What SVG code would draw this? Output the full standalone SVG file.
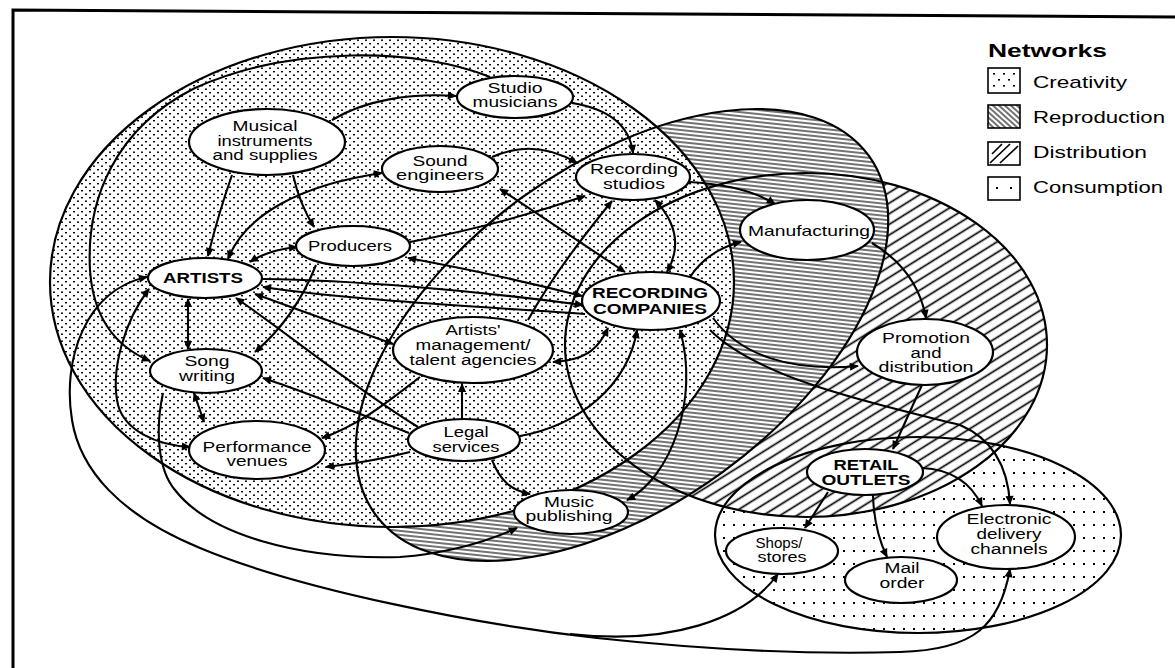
<svg xmlns="http://www.w3.org/2000/svg" width="1175" height="668" viewBox="0 0 1175 668">
<style>
.net{stroke:none}
.outl{fill:none;stroke:#000;stroke-width:2.2}
.node{fill:#fff;stroke:#000;stroke-width:2.2}
.c{fill:none;stroke:#000;stroke-width:2.1}
.e{marker-end:url(#ah)}
.b{marker-start:url(#ah);marker-end:url(#ah)}
.lb{stroke:#000;stroke-width:1.6}
text{font-family:"Liberation Sans",Arial,sans-serif;font-size:14px;fill:#000;text-anchor:middle}
.bold{font-weight:bold}
.leg{font-size:17px;text-anchor:start}
</style>
<defs>
<pattern id="pCre" width="8" height="7" patternUnits="userSpaceOnUse">
<rect width="8" height="7" fill="#fff"/>
<rect x="1" y="1" width="2" height="1.4" fill="#000"/>
<rect x="5" y="4.5" width="2" height="1.4" fill="#000"/>
</pattern>
<pattern id="pRep" width="4" height="4" patternUnits="userSpaceOnUse" patternTransform="rotate(42)">
<rect width="4" height="4" fill="#fff"/>
<line x1="0" y1="2" x2="4" y2="2" stroke="#000" stroke-width="1.1"/>
</pattern>
<pattern id="pDis" width="9" height="9" patternUnits="userSpaceOnUse" patternTransform="rotate(-32)">
<rect width="9" height="9" fill="#fff"/>
<line x1="0" y1="4.5" x2="9" y2="4.5" stroke="#000" stroke-width="1.7"/>
</pattern>
<pattern id="pCon" width="10" height="13" patternUnits="userSpaceOnUse">
<rect width="10" height="13" fill="#fff"/>
<rect x="3" y="4" width="2" height="2" fill="#000"/>
</pattern>
<marker id="ah" viewBox="0 0 10 10" refX="9" refY="5" markerWidth="10" markerHeight="9" markerUnits="userSpaceOnUse" orient="auto-start-reverse">
<path d="M0,0.5 L10,5 L0,9.5 z" fill="#000"/>
</marker>
</defs>

<rect width="1175" height="668" fill="#fff"/>
<path d="M13,668 L13,10 L1175,17" fill="none" stroke="#000" stroke-width="3"/>

<g id="networks">
<ellipse id="consumption" class="net" cx="918" cy="535" rx="203" ry="98" fill="url(#pCon)"/>
<ellipse id="distribution" class="net" cx="806" cy="345" rx="241" ry="172" fill="url(#pDis)"/>
<ellipse id="reproduction" class="net" cx="0" cy="0" rx="305" ry="170" transform="translate(622,335) rotate(-36)" fill="url(#pRep)"/>
<ellipse id="creativity" class="net" cx="392" cy="282" rx="342" ry="245" fill="url(#pCre)"/>
<ellipse class="outl" cx="918" cy="535" rx="203" ry="98"/>
<ellipse class="outl" cx="806" cy="345" rx="241" ry="172"/>
<ellipse class="outl" cx="0" cy="0" rx="305" ry="170" transform="translate(622,335) rotate(-36)"/>
<ellipse class="outl" cx="392" cy="282" rx="342" ry="245"/>
</g>

<g id="legend">
<text class="bold leg" x="988" y="57" textLength="119" lengthAdjust="spacingAndGlyphs" style="font-size:18px">Networks</text>
<g id="leg-creativity">
<rect x="988" y="68" width="32" height="25" fill="#fff" class="lb"/>
<g fill="#000">
<rect x="993" y="73" width="2" height="1.6"/><rect x="1003" y="73" width="2" height="1.6"/><rect x="1013" y="73" width="2" height="1.6"/>
<rect x="998" y="79" width="2" height="1.6"/><rect x="1008" y="79" width="2" height="1.6"/>
<rect x="993" y="85" width="2" height="1.6"/><rect x="1003" y="85" width="2" height="1.6"/><rect x="1013" y="85" width="2" height="1.6"/>
</g>
</g>
<rect x="988" y="105" width="32" height="23" fill="url(#pRep)" class="lb"/>
<g id="leg-distribution">
<rect x="988" y="142" width="32" height="23" fill="#fff" class="lb"/>
<path d="M990,163 L1010,144 M1000,163 L1018,146 M992,154 L1002,144" stroke="#000" stroke-width="1.7" fill="none"/>
</g>
<g id="leg-consumption">
<rect x="988" y="177" width="32" height="23" fill="#fff" class="lb"/>
<rect x="996" y="187" width="2" height="2" fill="#000"/><rect x="1010" y="187" width="2" height="2" fill="#000"/>
</g>
<text class="leg" x="1033" y="88" textLength="94" lengthAdjust="spacingAndGlyphs">Creativity</text>
<text class="leg" x="1033" y="123" textLength="132" lengthAdjust="spacingAndGlyphs">Reproduction</text>
<text class="leg" x="1033" y="158" textLength="114" lengthAdjust="spacingAndGlyphs">Distribution</text>
<text class="leg" x="1033" y="193" textLength="130" lengthAdjust="spacingAndGlyphs">Consumption</text>
</g>

<g id="connectors">
<path class="c e" d="M232,175 Q218,215 208,256"/>
<path class="c e" d="M293,175 Q300,205 314,227"/>
<path class="c e" d="M332,120 C365,100 410,93 456,96"/>
<path class="c e" d="M490,77 C420,48 290,45 195,88 C115,128 86,200 90,270 C93,315 112,345 150,361"/>
<path class="c e" d="M572,103 Q628,112 633,153"/>
<path class="c e" d="M492,157 Q535,138 577,163"/>
<path class="c b" d="M228,259 C245,215 300,185 382,173"/>
<path class="c b" d="M250,262 Q268,250 297,247"/>
<path class="c e" d="M316,265 Q295,318 255,352"/>
<path class="c e" d="M410,242 Q500,225 585,196"/>
<path class="c b" d="M408,258 Q500,275 582,296"/>
<path class="c e" d="M262,279 C350,280 470,290 583,305"/>
<path class="c e" d="M585,314 C470,306 350,300 263,287"/>
<path class="c b" d="M255,294 L393,344"/>
<path class="c e" d="M418,427 C350,385 290,335 236,298"/>
<path class="c b" d="M500,189 L625,272"/>
<path class="c b" d="M655,200 Q688,235 667,272"/>
<path class="c e" d="M689,182 Q745,185 775,204"/>
<path class="c e" d="M872,243 C900,260 920,285 926,318"/>
<path class="c e" d="M690,277 Q708,250 741,242"/>
<path class="c e" d="M713,318 C740,355 790,372 858,366"/>
<path class="c e" d="M710,330 C760,380 880,405 960,425 C995,440 1008,470 1010,504"/>
<path class="c e" d="M922,385 L893,449"/>
<path class="c e" d="M828,492 L805,528"/>
<path class="c e" d="M873,495 Q874,530 887,557"/>
<path class="c e" d="M922,468 Q965,470 982,506"/>
<path class="c b" d="M1010,569 C1000,625 975,650 900,652 C800,655 690,648 597,638 C480,625 300,590 200,548 C120,515 80,470 72,420 C62,360 85,290 147,277"/>
<path class="c e" d="M570,634 C670,645 745,620 778,574"/>
<path class="c e" d="M163,393 C155,430 158,470 175,490 C210,535 300,560 400,557 C450,553 490,540 517,528"/>
<path class="c b" d="M188,299 L188,349"/>
<path class="c b" d="M194,393 L204,422"/>
<path class="c b" d="M149,289 C125,320 110,370 118,405 C125,430 155,445 190,447"/>
<path class="c e" d="M409,433 C350,410 300,390 263,378"/>
<path class="c e" d="M410,452 Q370,462 326,467"/>
<path class="c e" d="M420,377 C390,400 360,425 322,438"/>
<path class="c e" d="M462,419 L462,384"/>
<path class="c e" d="M520,436 C580,425 628,385 637,330"/>
<path class="c e" d="M492,460 C500,480 510,490 530,494"/>
<path class="c b" d="M627,500 C670,478 700,400 680,330"/>
<path class="c e" d="M528,320 C550,280 580,240 612,201"/>
<path class="c b" d="M553,362 C590,360 600,345 608,328"/>
</g>

<g id="mi"><ellipse class="node" cx="267" cy="142" rx="78" ry="33"/>
<text x="265" y="131" textLength="65" lengthAdjust="spacingAndGlyphs">Musical</text>
<text x="265" y="146" textLength="95" lengthAdjust="spacingAndGlyphs">instruments</text>
<text x="265" y="160" textLength="105" lengthAdjust="spacingAndGlyphs">and supplies</text></g>
<g id="sm"><ellipse class="node" cx="515" cy="97" rx="58" ry="21"/>
<text x="515" y="93" textLength="55" lengthAdjust="spacingAndGlyphs">Studio</text>
<text x="515" y="107" textLength="85" lengthAdjust="spacingAndGlyphs">musicians</text></g>
<g id="se"><ellipse class="node" cx="440" cy="169" rx="58" ry="23"/>
<text x="440" y="166" textLength="55" lengthAdjust="spacingAndGlyphs">Sound</text>
<text x="440" y="180" textLength="88" lengthAdjust="spacingAndGlyphs">engineers</text></g>
<g id="rs"><ellipse class="node" cx="633" cy="177" rx="57" ry="23"/>
<text x="634" y="174" textLength="88" lengthAdjust="spacingAndGlyphs">Recording</text>
<text x="634" y="189" textLength="62" lengthAdjust="spacingAndGlyphs">studios</text></g>
<g id="mf"><ellipse class="node" cx="807" cy="230" rx="67" ry="30"/>
<text x="809" y="236" textLength="122" lengthAdjust="spacingAndGlyphs" style="font-size:15px">Manufacturing</text></g>
<g id="pr"><ellipse class="node" cx="353" cy="246" rx="57" ry="20"/>
<text x="350" y="251" textLength="84" lengthAdjust="spacingAndGlyphs">Producers</text></g>
<g id="ar"><ellipse class="node" cx="205" cy="278" rx="57" ry="20"/>
<text class="bold" x="203" y="283" textLength="80" lengthAdjust="spacingAndGlyphs">ARTISTS</text></g>
<g id="sw"><ellipse class="node" cx="206" cy="371" rx="56" ry="22"/>
<text x="207" y="366" textLength="45" lengthAdjust="spacingAndGlyphs">Song</text>
<text x="207" y="381" textLength="56" lengthAdjust="spacingAndGlyphs">writing</text></g>
<g id="pv"><ellipse class="node" cx="257" cy="450" rx="68" ry="29"/>
<text x="257" y="452" textLength="109" lengthAdjust="spacingAndGlyphs">Performance</text>
<text x="257" y="466" textLength="61" lengthAdjust="spacingAndGlyphs">venues</text></g>
<g id="am"><ellipse class="node" cx="473" cy="350" rx="80" ry="33"/>
<text x="473" y="335" textLength="55" lengthAdjust="spacingAndGlyphs">Artists'</text>
<text x="473" y="350" textLength="115" lengthAdjust="spacingAndGlyphs">management/</text>
<text x="473" y="365" textLength="127" lengthAdjust="spacingAndGlyphs">talent agencies</text></g>
<g id="rc"><ellipse class="node" cx="651" cy="301" rx="69" ry="29"/>
<text class="bold" x="650" y="298" textLength="116" lengthAdjust="spacingAndGlyphs">RECORDING</text>
<text class="bold" x="650" y="314" textLength="114" lengthAdjust="spacingAndGlyphs">COMPANIES</text></g>
<g id="ls"><ellipse class="node" cx="464" cy="440" rx="56" ry="21"/>
<text x="466" y="437" textLength="45" lengthAdjust="spacingAndGlyphs">Legal</text>
<text x="466" y="452" textLength="67" lengthAdjust="spacingAndGlyphs">services</text></g>
<g id="mp"><ellipse class="node" cx="571" cy="512" rx="57" ry="22"/>
<text x="569" y="507" textLength="50" lengthAdjust="spacingAndGlyphs">Music</text>
<text x="569" y="521" textLength="87" lengthAdjust="spacingAndGlyphs">publishing</text></g>
<g id="pd"><ellipse class="node" cx="925" cy="352" rx="68" ry="33"/>
<text x="926" y="343" textLength="88" lengthAdjust="spacingAndGlyphs">Promotion</text>
<text x="926" y="358" textLength="31" lengthAdjust="spacingAndGlyphs">and</text>
<text x="926" y="372" textLength="95" lengthAdjust="spacingAndGlyphs">distribution</text></g>
<g id="ro"><ellipse class="node" cx="865" cy="472" rx="58" ry="23"/>
<text class="bold" x="866" y="470" textLength="65" lengthAdjust="spacingAndGlyphs">RETAIL</text>
<text class="bold" x="866" y="485" textLength="89" lengthAdjust="spacingAndGlyphs">OUTLETS</text></g>
<g id="ss"><ellipse class="node" cx="782" cy="551" rx="56" ry="23"/>
<text x="779" y="548" textLength="47" lengthAdjust="spacingAndGlyphs">Shops/</text>
<text x="782" y="562" textLength="49" lengthAdjust="spacingAndGlyphs">stores</text></g>
<g id="mo"><ellipse class="node" cx="901" cy="580" rx="56" ry="23"/>
<text x="902" y="573" textLength="35" lengthAdjust="spacingAndGlyphs">Mail</text>
<text x="902" y="588" textLength="45" lengthAdjust="spacingAndGlyphs">order</text></g>
<g id="ed"><ellipse class="node" cx="1006" cy="537" rx="69" ry="32"/>
<text x="1009" y="524" textLength="85" lengthAdjust="spacingAndGlyphs">Electronic</text>
<text x="1009" y="539" textLength="65" lengthAdjust="spacingAndGlyphs">delivery</text>
<text x="1009" y="554" textLength="77" lengthAdjust="spacingAndGlyphs">channels</text></g>
</svg>
